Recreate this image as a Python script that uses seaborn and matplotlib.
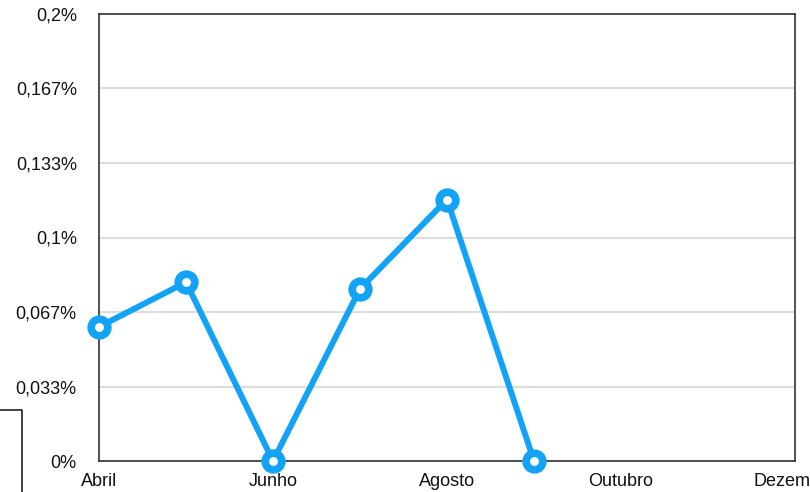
import matplotlib
matplotlib.use("Agg")
import matplotlib.pyplot as plt
import matplotlib.lines as mlines
from matplotlib.ticker import FixedLocator
import seaborn as sns
import pandas as pd

# months on the axis (Abril .. Dezembro)
months = ["Abril", "Maio", "Junho", "Julho", "Agosto", "Setembro",
          "Outubro", "Novembro", "Dezembro"]
# values in percent
values = [0.060, 0.080, 0.0, 0.077, 0.117, 0.0]

tick_months = ["Abril", "Junho", "Agosto", "Outubro", "Dezembro"]
y_ticks = [0, 0.0333, 0.0667, 0.1, 0.1333, 0.1667, 0.2]
y_labels = ["0%", "0,033%", "0,067%", "0,1%", "0,133%", "0,167%", "0,2%"]

df = pd.DataFrame({"pos": range(len(values)), "valor": values})

sns.set_style("white")
plt.rcParams["font.family"] = ["Liberation Sans", "DejaVu Sans"]

fig = plt.figure(figsize=(8.1, 4.92), dpi=100)
ax = fig.add_axes([99 / 810, 1 - 461 / 492, (795 - 99) / 810, (461 - 14) / 492])

blue = "#12A3F6"
sns.lineplot(data=df, x="pos", y="valor", ax=ax, color=blue, linewidth=4.3,
             marker="o", markersize=12, markeredgewidth=5.5,
             markerfacecolor="white", markeredgecolor=blue, clip_on=False,
             zorder=5)

ax.set_xlim(0, len(months) - 1)
ax.set_ylim(0, 0.2)
ax.xaxis.set_major_locator(FixedLocator([months.index(m) for m in tick_months]))
ax.set_xticklabels(tick_months)
ax.set_yticks(y_ticks)
ax.set_yticklabels(y_labels)
ax.set_xlabel("")
ax.set_ylabel("")
ax.tick_params(axis="both", length=0, labelsize=13, colors="#111111")
ax.tick_params(axis="y", pad=16)
ax.tick_params(axis="x", pad=9)

ax.yaxis.grid(True, color="#dddddd", linewidth=1.5)
ax.set_axisbelow(True)
for s in ax.spines.values():
    s.set_visible(True)
    s.set_color("#333333")
    s.set_linewidth(1.2)

# small box fragment at the bottom left
fig.add_artist(mlines.Line2D([0, 22 / 810, 22 / 810], [1 - 410 / 492, 1 - 410 / 492, 0],
                             color="#222222", linewidth=1.2))

fig.savefig("out.png", dpi=100)
